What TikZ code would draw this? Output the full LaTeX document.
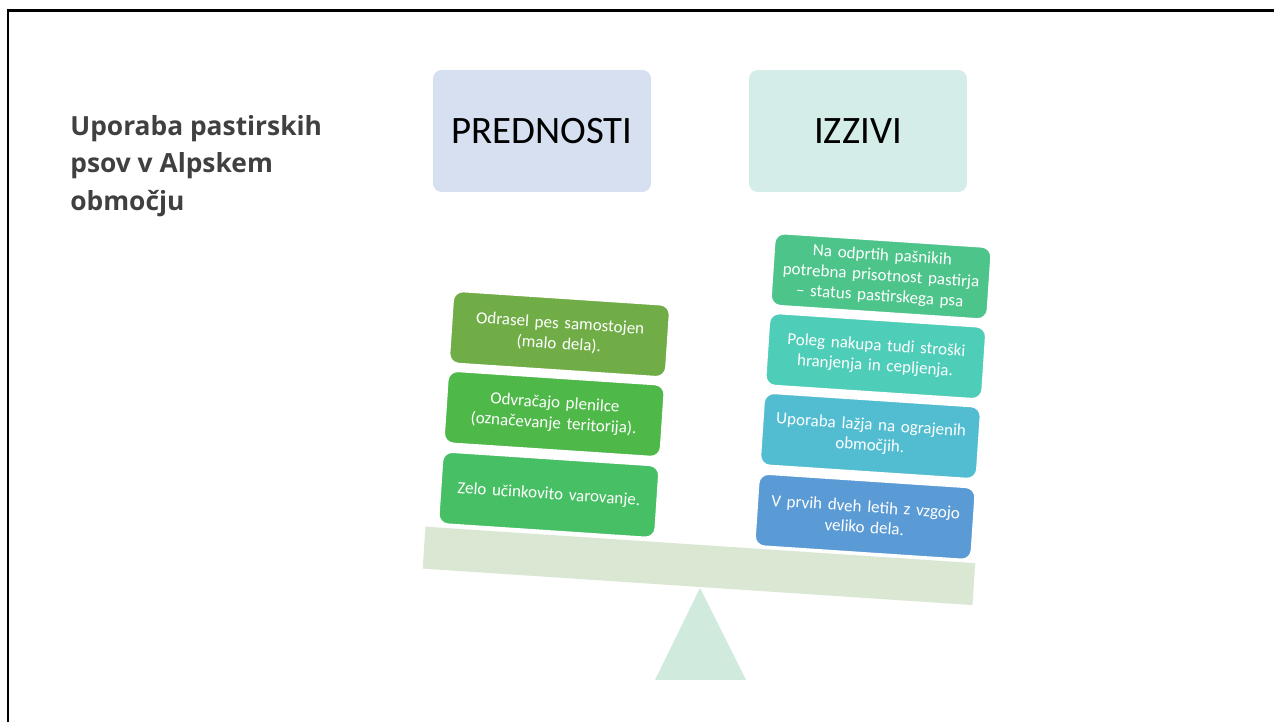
\documentclass[tikz,border=0pt]{standalone}
\usepackage{fontspec}
\setmainfont{Carlito}
\newfontfamily\titlefont{Open Sans}
\usepackage{tikz}
\usetikzlibrary{
	positioning,
	calc
}
\usepackage{xcolor}
\definecolor{headblue}{HTML}{D6E0F1}
\definecolor{headmint}{HTML}{D4EDE8}
\definecolor{olivegreen}{HTML}{70AD47}
\definecolor{leafgreen}{HTML}{4EB848}
\definecolor{grassgreen}{HTML}{47BF64}
\definecolor{seagreen}{HTML}{4CC48A}
\definecolor{tealcard}{HTML}{4ECDB8}
\definecolor{cyancard}{HTML}{52BDD1}
\definecolor{bluecard}{HTML}{5B9BD5}
\definecolor{beamgreen}{HTML}{D9E7D3}
\definecolor{pivotmint}{HTML}{D0EBDD}
\definecolor{titlegray}{HTML}{404040}

\begin{document}
\begin{tikzpicture}[x=0.02cm,y=0.02cm,
		header/.style={rounded corners=5.5pt,minimum width=4.4cm,minimum height=2.48cm,
			draw=white,line width=1pt,text=black,font=\fontsize{22.1}{26}\selectfont},
		card/.style={rounded corners=5.5pt,minimum width=4.28cm,minimum height=1.44cm,
			text width=4.1cm,align=center,draw=white,line width=0.8pt,text=white,
			font=\fontsize{9.7}{11.6}\selectfont}]
			
			\useasboundingbox (0,0) rectangle (1274,722);
			\fill[white] (0,0) rectangle (1274,722);
			
			% slide frame
			\draw[line width=1.7pt] (8,0)--(8,711)--(1274,711);
			
			\node[anchor=north west,align=left,inner sep=0pt,text=titlegray,
				font=\titlefont\bfseries\fontsize{15}{21.3}\selectfont] (title) at (70,607)
				{Uporaba pastirskih\\psov v Alpskem\\območju};
			
			\node[header,fill=headblue] (prednosti) at (542,591){PREDNOSTI};
			\node[header,fill=headmint] (izzivi) at (858,591){IZZIVI};
			
			% pivot
			\fill[pivotmint] (700,134)--(746,42)--(655,42)--cycle;
			
			% tilted beam and cards
			\begin{scope}[shift={(700,134)},rotate=-3.8,transform shape]
				\fill[beamgreen] (-278,1)rectangle(273,43);
				
				\node[card,fill=olivegreen] (samostojen) at (-157,244){Odrasel pes samostojen\\(malo dela).};
				\node[card,fill=leafgreen] (plenilci) at (-157,164){Odvračajo plenilce\\(označevanje teritorija).};
				\node[card,fill=grassgreen] (varovanje) at (-157,83){Zelo učinkovito varovanje.};
				
				\node[card,fill=seagreen] (pastir) at (160,323){Na odprtih pašnikih\\potrebna prisotnost pastirja\\– status pastirskega psa};
				\node[card,fill=tealcard] (stroski) at (160,243){Poleg nakupa tudi stroški\\hranjenja in cepljenja.};
				\node[card,fill=cyancard] (ograje) at (160,163){Uporaba lažja na ograjenih\\območjih.};
				\node[card,fill=bluecard] (vzgoja) at (160,82){V prvih dveh letih z vzgojo\\veliko dela.};
			\end{scope}
			
		\end{tikzpicture}
\end{document}
